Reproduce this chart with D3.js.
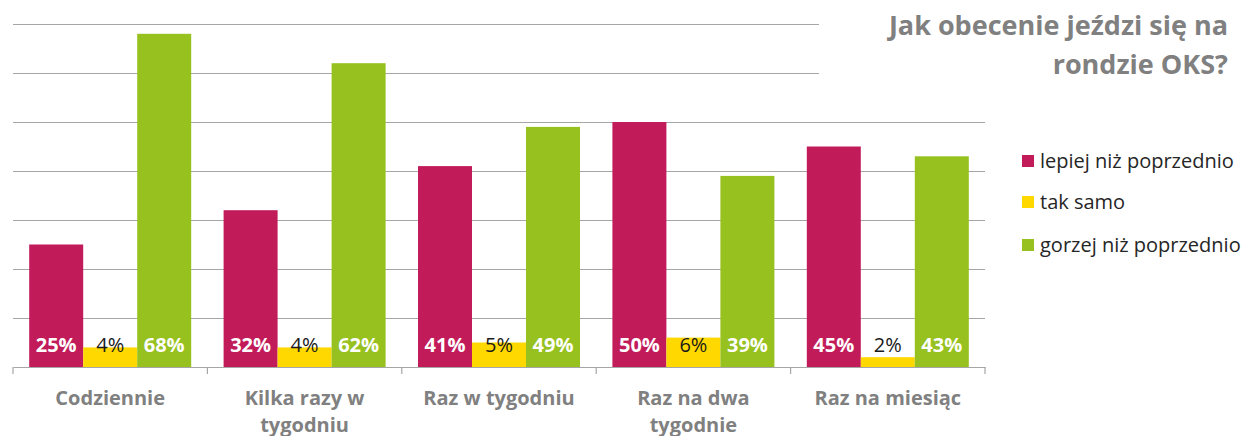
<!DOCTYPE html>
<html lang="pl">
<head>
  <meta charset="utf-8">
  <title>Jak obecenie jeździ się na rondzie OKS?</title>
  <script src="https://d3js.org/d3.v7.min.js"></script>
  <style>
    body { margin: 0; background: #fff; }
    svg text { font-family: "Open Sans", Lato, sans-serif; }
  </style>
</head>
<body>
  <div id="chart"></div>

  <script>
    "use strict"
    // dane
    var kategorie = [["Codziennie"], ["Kilka razy w", "tygodniu"], ["Raz w tygodniu"], ["Raz na dwa", "tygodnie"], ["Raz na miesiąc"]];
    var serie = ["lepiej niż poprzednio", "tak samo", "gorzej niż poprzednio"];
    var lepiej = [25, 32, 41, 50, 45];
    var takSamo = [4, 4, 5, 6, 2];
    var gorzej = [68, 62, 49, 39, 43];
    var kolory = ["#C21B5A", "#FFD800", "#96C11F"];
    var yTicks = [0, 10, 20, 30, 40, 50, 60, 70];

    var wartosci = [lepiej, takSamo, gorzej];
    var nazwy = kategorie.map(k => k.join(" "));

    var width = 1246, height = 436;
    var margin = {top: 24, left: 13, right: 261, bottom: 69};
    var plotW = width - margin.left - margin.right,
        plotH = height - margin.top - margin.bottom;

    var svg = d3.select("#chart").append("svg")
      .attr("width", width).attr("height", height);
    var g = svg.append("g")
      .attr("transform", "translate(" + margin.left + "," + margin.top + ")");

    var x0 = d3.scaleBand().domain(nazwy).range([0, plotW]);
    var pad = x0.bandwidth() / 12;
    var x1 = d3.scaleBand().domain(serie).range([pad, x0.bandwidth() - pad]);
    var y = d3.scaleLinear().domain([0, 70]).range([plotH, 0]);

    // linie siatki
    g.append("g")
      .call(d3.axisLeft(y).tickValues(yTicks.slice(1)).tickSize(-plotW).tickFormat(""))
      .call(a => a.select(".domain").remove())
      .selectAll("line").attr("stroke", "#A6A6A6").attr("stroke-width", 1.2);

    // slupki
    var grupy = g.selectAll("g.grupa")
      .data(nazwy)
      .enter().append("g")
        .attr("class", "grupa")
        .attr("transform", d => "translate(" + x0(d) + ",0)");

    grupy.selectAll("rect")
      .data((d, i) => serie.map((s, j) => ({s: s, v: wartosci[j][i], j: j})))
      .enter().append("rect")
        .attr("x", d => x1(d.s))
        .attr("width", x1.bandwidth())
        .attr("y", d => y(d.v))
        .attr("height", d => plotH - y(d.v))
        .attr("fill", d => kolory[d.j]);

    grupy.selectAll("text")
      .data((d, i) => serie.map((s, j) => ({s: s, v: wartosci[j][i], j: j})))
      .enter().append("text")
        .attr("x", d => x1(d.s) + x1.bandwidth() / 2)
        .attr("y", plotH - 15)
        .attr("text-anchor", "middle")
        .attr("font-size", "20px")
        .attr("font-weight", d => d.j == 1 ? "normal" : "bold")
        .attr("fill", d => d.j == 1 ? "#1a1a1a" : "#ffffff")
        .text(d => d.v + "%");

    // os x
    var osX = g.append("g")
      .attr("transform", "translate(0," + plotH + ")")
      .call(d3.axisBottom(x0).tickValues([]).tickSizeOuter(0));
    osX.select(".domain").attr("stroke", "#A6A6A6").attr("stroke-width", 1.2);
    var granice = nazwy.map(n => x0(n)).concat([plotW]);
    osX.selectAll("line.granica")
      .data(granice)
      .enter().append("line")
        .attr("class", "granica")
        .attr("x1", d => d).attr("x2", d => d)
        .attr("y1", 0).attr("y2", 7)
        .attr("stroke", "#A6A6A6").attr("stroke-width", 1.2);

    var etykiety = g.selectAll("text.kat")
      .data(kategorie)
      .enter().append("text")
        .attr("class", "kat")
        .attr("x", (d, i) => x0(nazwy[i]) + x0.bandwidth() / 2)
        .attr("y", plotH + 38)
        .attr("text-anchor", "middle")
        .attr("font-size", "20px")
        .attr("font-weight", "bold")
        .attr("fill", "#808080");
    etykiety.selectAll("tspan")
      .data(d => d)
      .enter().append("tspan")
        .attr("x", function () { return this.parentNode.getAttribute("x"); })
        .attr("dy", (d, i) => i == 0 ? 0 : 27)
        .text(d => d);

    // tytul (bialy prostokat zaslania siatke jak w Excelu)
    svg.append("rect")
      .attr("x", 819).attr("y", 0).attr("width", 427).attr("height", 88)
      .attr("fill", "#fff");
    var tytul = svg.append("text")
      .attr("x", 1228).attr("y", 35)
      .attr("text-anchor", "end")
      .attr("font-size", "27px")
      .attr("font-weight", "bold")
      .attr("fill", "#808080");
    tytul.append("tspan").attr("x", 1228).attr("dy", 0).text("Jak obecenie jeździ się na");
    tytul.append("tspan").attr("x", 1228).attr("dy", 39).text("rondzie OKS?");

    // legenda
    var legenda = svg.selectAll("g.leg")
      .data(serie)
      .enter().append("g")
        .attr("class", "leg")
        .attr("transform", (d, i) => "translate(1022," + [161, 202, 245][i] + ")");
    legenda.append("rect")
      .attr("x", 0).attr("y", -6).attr("width", 12).attr("height", 12)
      .attr("fill", (d, i) => kolory[i]);
    legenda.append("text")
      .attr("x", 18).attr("y", 7)
      .attr("font-size", "20px")
      .attr("fill", "#262626")
      .text(d => d);
  </script>
</body>
</html>
